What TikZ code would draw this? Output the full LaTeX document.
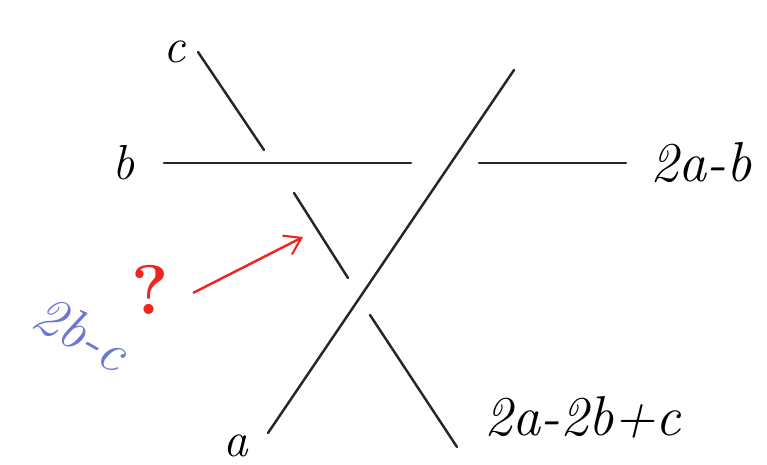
\documentclass[tikz,border=0pt]{standalone}
\usepackage{xcolor}
\usepackage{tikz}
\usetikzlibrary{arrows.meta, positioning}

\definecolor{penblue}{rgb}{0.42,0.47,0.82}
\definecolor{penred}{rgb}{0.93,0.15,0.12}

\begin{document}
\begin{tikzpicture}[
    x=0.02cm, y=-0.02cm,
    strand/.style={line width=1.4pt, draw=black!85, line cap=round},
    lbl/.style={inner sep=1pt, font=\fontsize{28}{32}\selectfont\itshape},
    wide/.style={lbl, font=\fontsize{32}{36}\selectfont\itshape},
    arrow/.style={-{Straight Barb[length=9pt, width=12pt, line width=1.2pt]}, line width=1.4pt, draw=penred},
]
    \useasboundingbox (0,0) rectangle (767,465);

    % Strand ends
    \coordinate (cTop) at (198,52);
    \coordinate (cBot) at (264,150);
    \coordinate (bL) at (164,163);
    \coordinate (bM) at (411,163);
    \coordinate (bN) at (479,163);
    \coordinate (bR) at (626,163);
    \coordinate (aBot) at (268,433);
    \coordinate (aTop) at (514,70);
    \coordinate (mTop) at (294,193);
    \coordinate (mBot) at (348,278);
    \coordinate (lTop) at (370,315);
    \coordinate (lBot) at (457,447);
    \coordinate (tail) at (193,293);
    \coordinate (tip) at (303,237);

    \draw[strand] (cTop) -- (cBot);
    \draw[strand] (bL) -- (bM);
    \draw[strand] (bN) -- (bR);
    \draw[strand] (aBot) -- (aTop);
    \draw[strand] (mTop) -- (mBot);
    \draw[strand] (lTop) -- (lBot);

    % Labels
    \node[lbl, left=0.2cm of cTop] (c) {c};
    \node[lbl, left=0.55cm of bL] (b) {b};
    \node[wide, right=0.45cm of bR] (twoab) {2a-b};
    \node[lbl] (a) at (236,446) {a};
    \node[wide, anchor=west] (twoabc) at (482,417) {2a-2b+c};

    % Question
    \node[inner sep=1pt, text=penred, font=\fontsize{40}{44}\selectfont\bfseries] (q) at (150,290) {?};
    \node[wide, text=penblue, rotate=-29] (guess) at (82,333) {2b-c};
    \draw[arrow] (tail) -- (tip);
\end{tikzpicture}
\end{document}
